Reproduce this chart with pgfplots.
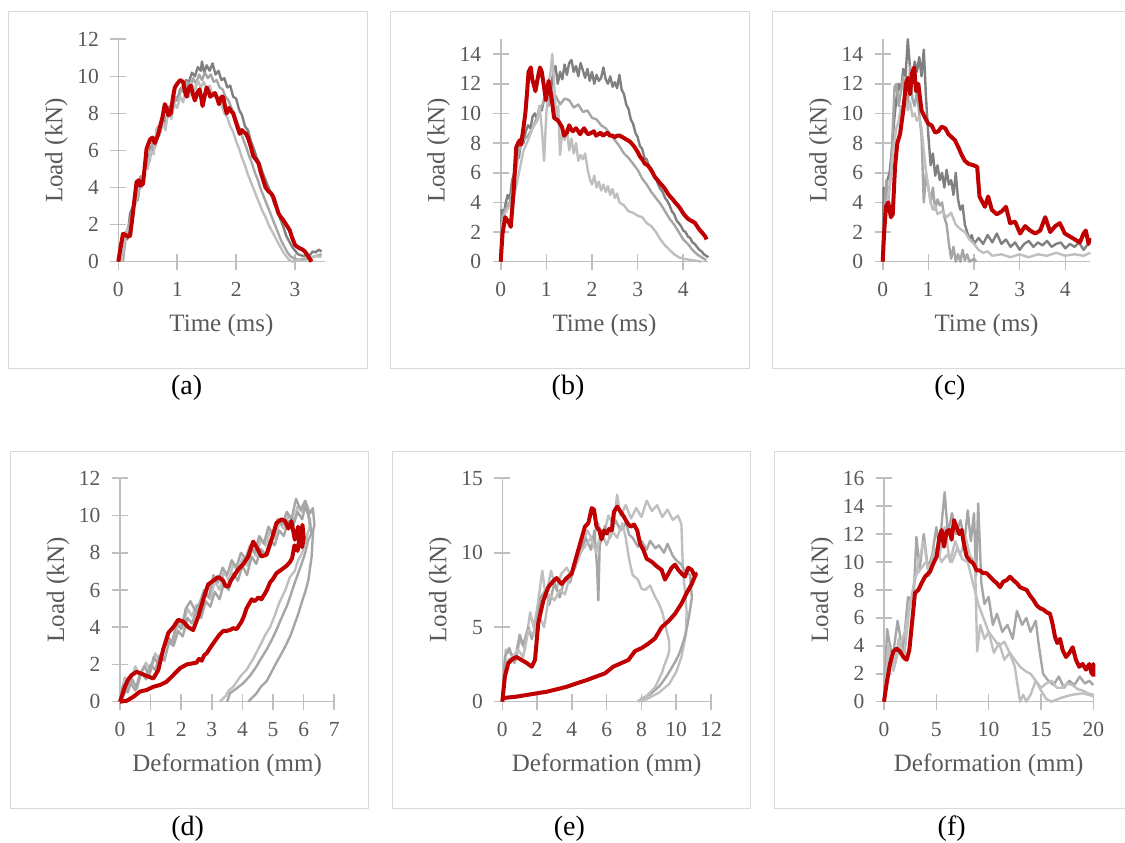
\documentclass[border=0pt]{standalone}
\usepackage{fontspec}
\setmainfont{Liberation Serif}
\usepackage{pgfplots}
\pgfplotsset{compat=1.18}
\definecolor{redline}{RGB}{192,0,0}
\definecolor{gA}{RGB}{128,128,128}
\definecolor{gB}{RGB}{166,166,166}
\definecolor{gC}{RGB}{191,191,191}
\definecolor{axgray}{RGB}{191,191,191}
\definecolor{txtgray}{RGB}{89,89,89}
\definecolor{framegray}{RGB}{217,217,217}

\pgfplotsset{
  panel/.style={
    scale only axis, anchor=south west,
    axis lines=left, axis line style={-, axgray, line width=1.6pt},
    tick style={axgray, line width=1.6pt}, tick align=center, major tick length=16pt,
    ticklabel style={font=\fontsize{21.5}{21.5}\selectfont, text=txtgray},
    yticklabel style={xshift=-8pt},
    xticklabel style={yshift=-9pt},
    label style={font=\fontsize{25}{25}\selectfont, text=txtgray},
    /pgf/number format/assume math mode=true,
    clip=false, xmin=0, ymin=0,
    ylabel={Load (kN)},
    xlabel style={at={(axis description cs:0.5,-0.285)}, anchor=center},
    ylabel style={anchor=center},
    every axis plot/.append style={line join=round},
  },
  rd/.style={redline, line width=4pt},
  ga/.style={gA, line width=2.4pt},
  gb/.style={gB, line width=2.4pt},
  gc/.style={gC, line width=2.4pt},
}

\begin{document}
\begin{tikzpicture}
\path[use as bounding box] (0,0) rectangle (1125pt,843pt);

% panel frames and captions
\draw[framegray, line width=1.5pt] (8.3pt,474.7pt) rectangle (367.7pt,831.3pt);
\draw[framegray, line width=1.5pt] (390.7pt,474.7pt) rectangle (749.3pt,831.3pt);
\draw[framegray, line width=1.5pt] (772.7pt,474.7pt) rectangle (1135pt,831.3pt);
\draw[framegray, line width=1.5pt] (10.7pt,34.7pt) rectangle (368.3pt,391.3pt);
\draw[framegray, line width=1.5pt] (392.3pt,34.7pt) rectangle (750.7pt,391.3pt);
\draw[framegray, line width=1.5pt] (774.3pt,34.7pt) rectangle (1135pt,391.3pt);
\node[font=\fontsize{28}{28}\selectfont] at (186.7pt,455pt) {(a)};
\node[font=\fontsize{28}{28}\selectfont] at (568pt,455pt) {(b)};
\node[font=\fontsize{28}{28}\selectfont] at (950pt,455pt) {(c)};
\node[font=\fontsize{28}{28}\selectfont] at (187.7pt,14pt) {(d)};
\node[font=\fontsize{28}{28}\selectfont] at (569.3pt,14pt) {(e)};
\node[font=\fontsize{28}{28}\selectfont] at (951.7pt,14pt) {(f)};

% (a)
\begin{axis}[panel, at={(118.3pt,581.3pt)}, width=206.2pt, height=222.4pt,
  xmax=3.5, ymax=12, xtick={0,1,2,3}, ytick={0,2,...,12},
  xlabel={Time (ms)}, ylabel style={at={(axis description cs:-0.300,0.5)}}]
\addplot[ga] coordinates {(0.05,0)(0.08,0.9)(0.12,1.6)(0.15,1.2)(0.2,2.6)(0.25,3.0)(0.3,3.9)(0.34,3.6)(0.38,4.6)(0.42,4.4)(0.46,5.5)(0.5,5.2)(0.55,6.2)(0.6,6.0)(0.65,6.9)(0.7,7.0)(0.75,7.7)(0.8,7.5)(0.85,8.3)(0.9,8.1)(0.95,8.8)(1.0,8.7)(1.05,9.3)(1.1,9.2)(1.15,9.8)(1.2,9.7)(1.25,10.2)(1.3,10.0)(1.35,10.5)(1.4,10.3)(1.42,10.8)(1.46,10.2)(1.5,10.6)(1.55,10.3)(1.6,10.7)(1.65,10.1)(1.7,10.3)(1.75,9.8)(1.8,9.9)(1.85,9.4)(1.9,9.5)(1.95,8.9)(2.0,8.8)(2.05,8.2)(2.1,7.9)(2.15,7.3)(2.2,7.1)(2.25,6.5)(2.3,6.1)(2.35,5.6)(2.4,5.3)(2.45,4.8)(2.5,4.4)(2.55,4.0)(2.6,3.6)(2.65,3.1)(2.7,2.8)(2.75,2.3)(2.8,1.9)(2.85,1.4)(2.9,1.1)(2.95,0.8)(3.0,0.6)(3.05,0.4)(3.1,0.35)(3.15,0.3)(3.2,0.4)(3.25,0.35)(3.3,0.55)(3.35,0.5)(3.4,0.65)(3.45,0.55)};
\addplot[gb] coordinates {(0.08,0)(0.12,1.2)(0.18,2.0)(0.22,2.4)(0.28,3.5)(0.33,3.3)(0.38,4.5)(0.43,4.7)(0.48,5.6)(0.53,5.4)(0.58,6.4)(0.63,6.2)(0.68,7.3)(0.72,7.0)(0.77,7.9)(0.82,7.6)(0.87,8.4)(0.92,8.1)(0.97,8.9)(1.02,8.7)(1.07,9.4)(1.12,9.1)(1.17,9.7)(1.22,9.4)(1.27,9.9)(1.32,9.6)(1.37,10.1)(1.42,9.8)(1.47,10.2)(1.52,9.9)(1.57,10.1)(1.62,9.7)(1.67,9.8)(1.72,9.4)(1.77,9.3)(1.82,8.9)(1.87,8.7)(1.92,8.3)(1.97,8.0)(2.02,7.5)(2.07,7.1)(2.12,6.6)(2.17,6.2)(2.22,5.7)(2.27,5.3)(2.32,4.8)(2.37,4.4)(2.42,3.9)(2.47,3.5)(2.52,3.1)(2.57,2.7)(2.62,2.3)(2.67,1.9)(2.72,1.5)(2.77,1.1)(2.82,0.8)(2.87,0.5)(2.92,0.3)(2.97,0.2)(3.05,0.1)(3.15,0.15)(3.25,0.2)(3.35,0.3)(3.45,0.4)};
\addplot[gc] coordinates {(0.05,0)(0.1,1.0)(0.15,1.8)(0.2,1.7)(0.25,2.9)(0.3,3.2)(0.35,4.2)(0.4,4.0)(0.45,5.2)(0.5,5.0)(0.55,6.0)(0.6,5.8)(0.65,7.2)(0.7,6.8)(0.75,7.6)(0.8,7.1)(0.85,8.2)(0.9,7.7)(0.95,8.5)(1.0,8.3)(1.05,8.9)(1.1,8.6)(1.15,9.4)(1.2,8.9)(1.25,9.6)(1.3,9.2)(1.35,9.8)(1.4,9.4)(1.45,9.7)(1.5,9.3)(1.55,9.5)(1.6,9.0)(1.65,9.1)(1.7,8.6)(1.75,8.5)(1.8,8.0)(1.85,7.8)(1.9,7.3)(1.95,7.0)(2.0,6.5)(2.05,6.1)(2.1,5.6)(2.15,5.2)(2.2,4.7)(2.25,4.3)(2.3,3.9)(2.35,3.5)(2.4,3.1)(2.45,2.7)(2.5,2.4)(2.55,2.0)(2.6,1.7)(2.65,1.4)(2.7,1.1)(2.75,0.8)(2.8,0.5)(2.85,0.3)(2.9,0.1)(2.95,0)(3.05,0.1)(3.15,0.05)(3.25,0.2)(3.35,0.3)(3.45,0.25)};
\addplot[rd] coordinates {(0,0)(0.04,0.8)(0.08,1.5)(0.12,1.45)(0.16,1.35)(0.2,1.4)(0.24,2.4)(0.28,3.5)(0.31,4.3)(0.35,4.4)(0.37,4.1)(0.42,4.2)(0.48,6.1)(0.54,6.6)(0.58,6.7)(0.62,6.4)(0.67,6.8)(0.71,7.3)(0.75,7.8)(0.79,8.5)(0.82,8.3)(0.85,7.9)(0.89,8.0)(0.93,8.9)(0.96,9.4)(1.0,9.6)(1.05,9.8)(1.10,9.7)(1.13,9.2)(1.16,8.9)(1.2,9.4)(1.23,9.5)(1.27,9.0)(1.30,8.7)(1.34,9.1)(1.38,9.3)(1.41,8.8)(1.43,8.4)(1.47,9.0)(1.50,9.4)(1.53,9.2)(1.56,8.9)(1.6,9.0)(1.64,9.1)(1.68,8.8)(1.71,8.5)(1.75,8.9)(1.78,8.9)(1.81,8.4)(1.84,8.0)(1.88,8.3)(1.92,8.1)(1.95,8.0)(1.99,7.6)(2.02,7.3)(2.06,6.9)(2.10,7.1)(2.13,7.0)(2.17,6.9)(2.21,6.6)(2.25,6.2)(2.29,5.7)(2.34,5.5)(2.38,5.3)(2.42,4.8)(2.46,4.4)(2.50,4.0)(2.55,3.8)(2.59,3.7)(2.63,3.5)(2.68,3.0)(2.72,2.6)(2.76,2.4)(2.80,2.25)(2.85,2.0)(2.91,1.7)(2.95,1.3)(3.0,0.9)(3.04,0.8)(3.08,0.72)(3.13,0.65)(3.17,0.54)(3.22,0.3)(3.28,0)};
\end{axis}

% (b)
\begin{axis}[panel, at={(500.7pt,581.3pt)}, width=207.7pt, height=222.4pt,
  xmax=4.55, ymax=15, xtick={0,1,2,3,4}, ytick={0,2,...,14},
  xlabel={Time (ms)}, ylabel style={at={(axis description cs:-0.299,0.5)}}]
\addplot[ga] coordinates {(0,0)(0.02,3.5)(0.06,3.2)(0.1,3.8)(0.15,4.5)(0.2,4.2)(0.25,5.5)(0.3,6.0)(0.35,7.5)(0.4,7.0)(0.45,8.5)(0.5,8.0)(0.55,8.8)(0.6,9.2)(0.65,9.0)(0.7,9.8)(0.75,10.0)(0.8,9.6)(0.85,10.5)(0.9,10.2)(0.95,11.0)(1.0,11.3)(1.05,12.0)(1.1,11.5)(1.15,12.8)(1.2,13.2)(1.25,12.0)(1.3,12.8)(1.35,12.3)(1.4,13.3)(1.45,12.6)(1.5,13.4)(1.55,13.6)(1.6,12.8)(1.65,13.2)(1.7,12.5)(1.75,13.4)(1.8,12.9)(1.85,12.4)(1.9,13.0)(1.95,12.2)(2.0,12.8)(2.05,12.0)(2.1,12.6)(2.15,12.2)(2.2,12.4)(2.25,13.1)(2.3,12.3)(2.35,12.0)(2.4,12.5)(2.45,11.8)(2.5,12.1)(2.55,11.7)(2.6,12.6)(2.65,11.6)(2.7,11.3)(2.75,10.6)(2.8,10.3)(2.85,9.6)(2.9,9.3)(2.95,8.7)(3.0,8.4)(3.05,7.8)(3.1,7.6)(3.15,7.0)(3.2,6.9)(3.25,6.4)(3.3,6.3)(3.35,5.8)(3.4,5.6)(3.45,5.2)(3.5,4.9)(3.55,4.7)(3.6,4.3)(3.65,4.1)(3.7,3.8)(3.75,3.4)(3.8,3.2)(3.85,2.8)(3.9,2.6)(3.95,2.4)(4.0,2.1)(4.05,2.0)(4.1,1.7)(4.15,1.6)(4.2,1.3)(4.25,1.2)(4.3,1.0)(4.35,0.8)(4.4,0.7)(4.45,0.5)(4.5,0.4)(4.55,0.3)};
\addplot[gb] coordinates {(0,0)(0.03,3.0)(0.1,3.5)(0.2,4.0)(0.3,5.5)(0.4,7.5)(0.5,8.2)(0.6,8.5)(0.7,9.0)(0.8,9.8)(0.9,10.5)(1.0,11.2)(1.05,10.5)(1.1,11.8)(1.15,11.0)(1.2,11.2)(1.3,10.6)(1.4,11.0)(1.5,10.9)(1.6,10.4)(1.7,10.6)(1.8,10.1)(1.9,10.2)(2.0,9.7)(2.1,9.6)(2.2,9.2)(2.3,9.0)(2.4,8.6)(2.5,8.2)(2.6,7.8)(2.7,7.3)(2.8,7.0)(2.9,6.6)(3.0,6.2)(3.1,5.6)(3.2,5.2)(3.3,4.7)(3.4,4.3)(3.5,3.9)(3.6,3.4)(3.7,2.9)(3.8,2.5)(3.9,2.0)(4.0,1.5)(4.1,1.2)(4.2,0.8)(4.3,0.5)(4.4,0.3)(4.5,0.1)};
\addplot[gc] coordinates {(0,0)(0.03,2.5)(0.1,3.3)(0.2,3.8)(0.3,4.5)(0.4,6.0)(0.5,7.5)(0.6,8.2)(0.7,9.0)(0.8,9.5)(0.85,10.5)(0.9,9.0)(0.95,6.8)(1.0,10.0)(1.05,12.0)(1.1,13.0)(1.13,14.0)(1.18,11.5)(1.22,9.5)(1.26,10.5)(1.3,7.2)(1.35,8.8)(1.4,8.2)(1.45,9.0)(1.5,7.5)(1.55,8.3)(1.6,7.3)(1.65,8.0)(1.7,6.8)(1.75,7.2)(1.8,6.9)(1.85,7.3)(1.9,6.3)(1.95,5.6)(2.0,5.2)(2.05,5.8)(2.1,5.0)(2.15,5.4)(2.2,4.8)(2.25,5.2)(2.3,4.7)(2.35,5.1)(2.4,4.5)(2.45,4.9)(2.5,4.3)(2.55,4.6)(2.6,4.0)(2.7,3.8)(2.8,3.4)(2.9,3.3)(3.0,3.1)(3.1,3.0)(3.2,2.6)(3.3,2.4)(3.4,2.0)(3.5,1.5)(3.6,1.1)(3.7,0.8)(3.8,0.5)(3.9,0.3)(4.0,0.2)(4.2,0.1)(4.4,0.0)};
\addplot[rd] coordinates {(0,0)(0.04,1.9)(0.1,3.0)(0.14,2.8)(0.17,2.7)(0.22,2.35)(0.28,4.6)(0.34,7.7)(0.38,8.0)(0.42,8.2)(0.45,7.9)(0.48,8.6)(0.54,10.0)(0.58,11.5)(0.61,12.8)(0.66,13.1)(0.69,12.3)(0.72,12.0)(0.76,11.5)(0.80,12.2)(0.86,13.1)(0.9,12.8)(0.93,12.2)(0.99,10.9)(1.05,12.2)(1.09,11.5)(1.12,10.9)(1.17,9.7)(1.22,9.6)(1.26,9.5)(1.3,9.3)(1.34,9.1)(1.39,8.5)(1.45,8.7)(1.50,9.2)(1.55,8.9)(1.58,8.8)(1.65,9.0)(1.70,8.8)(1.74,8.6)(1.8,8.9)(1.83,9.0)(1.88,8.7)(1.92,8.6)(1.99,8.7)(2.04,8.8)(2.09,8.5)(2.14,8.6)(2.19,8.7)(2.24,8.5)(2.29,8.6)(2.34,8.7)(2.39,8.5)(2.45,8.5)(2.50,8.4)(2.55,8.5)(2.61,8.5)(2.67,8.4)(2.72,8.3)(2.78,8.2)(2.83,8.1)(2.89,7.9)(2.94,7.7)(3.0,7.4)(3.05,7.1)(3.1,6.9)(3.16,6.6)(3.22,6.5)(3.27,6.3)(3.33,6.0)(3.38,5.7)(3.44,5.5)(3.49,5.3)(3.55,5.1)(3.60,4.9)(3.66,4.6)(3.71,4.4)(3.77,4.2)(3.82,4.0)(3.88,3.8)(3.93,3.6)(3.99,3.3)(4.04,3.1)(4.10,2.9)(4.15,2.8)(4.21,2.7)(4.26,2.6)(4.32,2.3)(4.37,2.1)(4.43,1.9)(4.48,1.7)(4.51,1.5)};
\end{axis}

% (c)
\begin{axis}[panel, at={(882.7pt,581.3pt)}, width=207.7pt, height=222.4pt,
  xmax=4.55, ymax=15, xtick={0,1,2,3,4}, ytick={0,2,...,14},
  xlabel={Time (ms)}, ylabel style={at={(axis description cs:-0.299,0.5)}}]
\addplot[ga] coordinates {(0,0)(0.02,5.0)(0.06,4.5)(0.1,5.5)(0.15,6.0)(0.2,7.5)(0.25,9.5)(0.3,11.0)(0.35,12.0)(0.4,11.5)(0.45,13.0)(0.5,12.5)(0.55,15.0)(0.6,13.0)(0.65,12.2)(0.7,13.5)(0.75,12.8)(0.8,13.8)(0.85,12.5)(0.9,14.3)(0.95,11.0)(1.0,8.5)(1.05,6.5)(1.1,7.3)(1.15,5.8)(1.2,6.5)(1.25,5.5)(1.3,6.0)(1.35,5.0)(1.4,6.2)(1.45,5.2)(1.5,5.5)(1.55,4.5)(1.6,6.0)(1.65,4.2)(1.7,3.5)(1.75,3.8)(1.8,2.5)(1.85,2.0)(1.9,1.5)(1.95,1.8)(2.0,1.2)(2.1,1.6)(2.2,1.2)(2.3,1.8)(2.4,1.3)(2.5,1.9)(2.6,1.2)(2.7,1.5)(2.8,1.0)(2.9,1.3)(3.0,0.8)(3.1,1.2)(3.2,1.4)(3.3,1.0)(3.4,1.3)(3.5,1.1)(3.6,1.4)(3.7,1.0)(3.8,1.2)(3.9,1.3)(4.0,0.9)(4.1,1.2)(4.2,1.0)(4.3,1.3)(4.4,0.8)(4.5,1.2)(4.55,1.4)};
\addplot[gb] coordinates {(0,0)(0.03,3.0)(0.08,5.5)(0.12,4.0)(0.18,6.0)(0.22,9.0)(0.26,11.8)(0.3,12.0)(0.35,10.5)(0.4,11.5)(0.45,12.5)(0.5,11.0)(0.55,10.5)(0.6,13.2)(0.65,11.0)(0.7,10.5)(0.75,11.5)(0.8,10.0)(0.85,8.5)(0.9,4.0)(0.95,6.0)(1.0,5.0)(1.05,4.0)(1.1,5.0)(1.15,3.5)(1.2,4.2)(1.25,3.8)(1.3,4.0)(1.35,3.0)(1.4,2.5)(1.45,1.2)(1.5,0.2)(1.55,1.0)(1.6,0.0)(1.65,0.5)(1.7,0.0)(1.75,0.8)(1.8,0.1)(1.85,0.5)(1.9,0.0)(2.0,0.2)(2.05,0.0)};
\addplot[gc] coordinates {(0,0)(0.05,2.5)(0.1,4.0)(0.15,5.0)(0.2,6.5)(0.25,8.0)(0.3,9.0)(0.35,9.5)(0.4,10.5)(0.45,10.0)(0.5,11.0)(0.55,10.2)(0.6,10.8)(0.65,9.8)(0.7,10.0)(0.75,9.5)(0.8,9.8)(0.85,9.0)(0.9,7.5)(0.95,6.0)(1.0,5.0)(1.05,4.0)(1.1,3.5)(1.15,3.8)(1.2,3.2)(1.3,3.4)(1.4,3.0)(1.5,3.3)(1.6,2.5)(1.7,2.2)(1.8,2.0)(1.9,1.5)(2.0,1.2)(2.1,0.8)(2.2,0.6)(2.3,0.7)(2.4,0.4)(2.6,0.5)(2.8,0.3)(3.0,0.5)(3.2,0.3)(3.4,0.5)(3.6,0.4)(3.8,0.6)(4.0,0.4)(4.2,0.5)(4.4,0.4)(4.55,0.6)};
\addplot[rd] coordinates {(0,0)(0.03,1.9)(0.07,3.7)(0.12,4.0)(0.15,3.5)(0.18,3.0)(0.22,3.2)(0.27,6.4)(0.32,8.0)(0.38,8.6)(0.45,10.2)(0.51,12.0)(0.55,12.4)(0.60,11.3)(0.64,12.7)(0.69,13.1)(0.73,11.5)(0.78,12.0)(0.85,10.2)(0.93,9.7)(1.0,9.3)(1.07,9.2)(1.15,8.7)(1.22,8.8)(1.29,9.1)(1.37,9.0)(1.44,8.6)(1.51,8.4)(1.58,8.2)(1.66,7.7)(1.73,7.2)(1.80,6.8)(1.88,6.6)(1.99,6.5)(2.07,6.4)(2.12,4.4)(2.17,4.1)(2.24,3.7)(2.31,4.4)(2.39,3.5)(2.50,3.2)(2.61,3.4)(2.70,3.7)(2.79,2.6)(2.90,2.7)(3.01,1.9)(3.12,2.4)(3.23,2.1)(3.34,1.9)(3.45,2.1)(3.56,3.0)(3.67,2.0)(3.78,2.4)(3.88,2.6)(3.99,1.9)(4.10,1.7)(4.21,1.5)(4.32,1.3)(4.40,1.9)(4.45,2.1)(4.51,1.2)(4.53,1.6)};
\end{axis}

% (d)
\begin{axis}[panel, at={(120pt,141.3pt)}, width=214.3pt, height=223.4pt,
  xmax=7, ymax=12, xtick={0,1,...,7}, ytick={0,2,...,12},
  xlabel={Deformation (mm)}, ylabel style={at={(axis description cs:-0.289,0.5)}}]
\addplot[gc] coordinates {(0,0)(0.15,1.3)(0.3,0.9)(0.5,1.9)(0.65,1.4)(0.85,2.1)(1.0,1.6)(1.15,2.6)(1.3,2.2)(1.45,3.0)(1.6,3.4)(1.75,3.1)(1.9,4.3)(2.05,4.0)(2.2,5.0)(2.35,4.6)(2.5,5.2)(2.65,4.7)(2.8,5.8)(2.95,5.5)(3.1,6.5)(3.25,6.0)(3.4,7.0)(3.55,6.5)(3.7,7.4)(3.85,7.0)(4.0,7.7)(4.15,7.3)(4.3,8.2)(4.45,7.8)(4.6,8.7)(4.75,8.4)(4.9,9.2)(5.05,8.8)(5.2,9.6)(5.35,9.3)(5.5,10.0)(5.65,9.6)(5.8,10.5)(5.95,10.2)(6.05,10.7)(6.15,10.0)(6.2,9.4)(6.1,8.9)(6.04,8.5)(5.95,8.0)(5.82,7.6)(5.7,7.0)(5.55,6.7)(5.4,6.0)(5.2,5.3)(5.05,4.6)(4.9,4.0)(4.75,3.6)(4.57,3.0)(4.35,2.3)(4.13,1.7)(3.95,1.4)(3.7,0.8)(3.55,0.6)(3.45,0.3)(3.26,0)};
\addplot[gb] coordinates {(0,0)(0.1,0.9)(0.25,0.5)(0.4,1.2)(0.55,0.7)(0.7,1.6)(0.85,1.2)(1.0,2.0)(1.15,1.7)(1.3,2.5)(1.45,2.2)(1.6,3.2)(1.75,3.0)(1.9,3.8)(2.05,3.5)(2.2,4.5)(2.35,4.2)(2.5,4.9)(2.65,4.5)(2.8,5.4)(2.95,5.1)(3.1,5.9)(3.25,5.5)(3.4,6.4)(3.55,6.0)(3.7,6.9)(3.85,6.5)(4.0,7.3)(4.15,6.8)(4.3,7.8)(4.45,7.4)(4.6,8.2)(4.75,7.9)(4.9,8.7)(5.05,8.4)(5.2,9.2)(5.35,8.9)(5.5,9.7)(5.65,9.4)(5.8,10.2)(5.95,9.8)(6.05,10.5)(6.2,9.8)(6.25,9.0)(6.15,8.7)(6.05,8.0)(5.93,7.4)(5.8,6.8)(5.71,6.4)(5.55,5.6)(5.44,5.1)(5.25,4.4)(5.11,3.85)(4.95,3.3)(4.79,2.8)(4.6,2.3)(4.46,1.9)(4.25,1.4)(4.03,1.0)(3.8,0.7)(3.59,0.45)(3.5,0)};
\addplot[gb] coordinates {(0,0)(0.2,0.6)(0.35,1.0)(0.5,0.6)(0.65,1.5)(0.8,1.9)(0.95,1.4)(1.1,2.4)(1.25,2.0)(1.4,2.7)(1.55,3.5)(1.7,3.2)(1.85,4.2)(2.0,3.9)(2.15,5.0)(2.3,5.4)(2.45,4.9)(2.6,5.3)(2.75,6.0)(2.9,5.6)(3.05,6.8)(3.2,6.4)(3.35,7.2)(3.5,6.8)(3.65,7.6)(3.8,7.2)(3.95,8.0)(4.1,7.7)(4.25,8.4)(4.4,8.0)(4.55,8.9)(4.7,8.5)(4.85,9.4)(5.0,9.0)(5.15,9.8)(5.3,9.5)(5.45,10.2)(5.6,9.8)(5.75,10.9)(5.9,10.3)(6.05,10.8)(6.2,10.1)(6.3,10.4)(6.35,9.5)(6.31,9.2)(6.28,8.4)(6.26,7.8)(6.2,7.1)(6.15,6.5)(6.05,5.9)(5.93,5.3)(5.82,4.7)(5.71,4.2)(5.58,3.6)(5.44,3.1)(5.28,2.6)(5.11,2.1)(4.95,1.6)(4.79,1.1)(4.6,0.8)(4.46,0.45)(4.19,0)};
\addplot[rd] coordinates {(0,0)(0.16,0.8)(0.27,1.2)(0.38,1.43)(0.54,1.6)(0.71,1.5)(0.92,1.35)(1.09,1.25)(1.25,1.7)(1.41,2.8)(1.58,3.7)(1.74,4.0)(1.90,4.4)(2.07,4.3)(2.23,4.0)(2.39,3.85)(2.56,4.6)(2.72,5.5)(2.88,6.3)(3.05,6.5)(3.21,6.7)(3.30,6.6)(3.37,6.5)(3.45,6.2)(3.54,6.2)(3.62,6.5)(3.70,6.7)(3.86,7.1)(4.03,7.4)(4.19,7.8)(4.35,8.6)(4.46,8.3)(4.62,7.8)(4.79,7.9)(4.95,8.7)(5.11,9.6)(5.28,9.8)(5.39,9.7)(5.50,9.3)(5.60,9.7)(5.71,8.7)(5.82,9.4)(5.90,8.4)(5.96,9.5)(6.0,8.8)(5.95,8.3)(5.88,9.0)(5.80,8.1)(5.70,8.4)(5.62,7.7)(5.55,7.5)(5.44,7.3)(5.28,7.1)(5.11,6.9)(5.0,6.6)(4.90,6.4)(4.80,6.0)(4.73,5.8)(4.62,5.5)(4.52,5.6)(4.40,5.4)(4.30,5.5)(4.20,5.2)(4.13,5.0)(4.05,4.6)(3.97,4.3)(3.81,3.9)(3.70,3.95)(3.59,3.85)(3.48,3.8)(3.37,3.8)(3.25,3.6)(3.16,3.4)(2.99,3.0)(2.83,2.6)(2.75,2.5)(2.67,2.2)(2.58,2.3)(2.50,2.1)(2.34,2.05)(2.18,2.0)(1.96,1.8)(1.74,1.43)(1.52,1.07)(1.31,0.9)(1.09,0.8)(0.87,0.63)(0.65,0.54)(0.44,0.27)(0.22,0.05)(0,0)};
\end{axis}

% (e)
\begin{axis}[panel, at={(502.3pt,141.3pt)}, width=208.7pt, height=223.4pt,
  xmax=12, ymax=15, xtick={0,2,...,12}, ytick={0,5,10,15},
  xlabel={Deformation (mm)}, ylabel style={at={(axis description cs:-0.297,0.5)}}]
\addplot[gc] coordinates {(0,0)(0.2,3.5)(0.5,3.2)(0.8,2.8)(1.0,4.2)(1.3,3.5)(1.6,6.0)(1.8,5.0)(2.0,6.2)(2.3,8.8)(2.5,7.0)(2.8,8.8)(3.1,7.5)(3.4,8.6)(3.7,9.0)(4.0,8.4)(4.3,10.0)(4.6,10.5)(4.9,11.5)(5.2,10.8)(5.5,12.0)(5.8,11.0)(6.1,12.5)(6.4,11.8)(6.6,13.9)(6.8,12.5)(7.1,13.2)(7.4,12.3)(7.7,13.0)(8.0,12.4)(8.3,13.5)(8.6,12.8)(8.9,13.2)(9.2,12.4)(9.5,12.9)(9.8,12.2)(10.1,12.5)(10.3,11.9)(10.35,10.0)(10.4,8.5)(10.5,7.5)(10.6,6.0)(10.55,4.5)(10.3,3.0)(10.0,2.0)(9.6,1.2)(9.0,0.6)(8.5,0.3)(8.0,0.0)};
\addplot[gb] coordinates {(0,0)(0.15,3.0)(0.4,3.6)(0.7,2.6)(1.0,4.5)(1.2,3.8)(1.5,5.0)(1.7,4.2)(2.0,5.5)(2.2,7.0)(2.5,7.5)(2.7,6.5)(3.0,8.0)(3.3,7.0)(3.6,8.3)(3.9,8.0)(4.2,9.5)(4.5,10.0)(4.8,11.0)(5.1,10.2)(5.3,11.5)(5.45,9.0)(5.52,6.8)(5.6,10.5)(5.9,11.8)(6.2,11.0)(6.5,12.2)(6.8,11.5)(7.1,12.0)(7.3,11.2)(7.5,11.0)(7.8,10.4)(8.0,10.8)(8.3,10.2)(8.5,10.8)(8.8,10.3)(9.0,10.5)(9.3,10.0)(9.5,10.6)(9.8,9.8)(10.0,9.5)(10.3,9.2)(10.5,8.8)(10.8,8.5)(10.9,7.0)(10.8,6.2)(10.7,5.5)(10.55,4.6)(10.4,4.0)(10.2,3.3)(10.0,2.8)(9.7,2.2)(9.5,1.8)(9.2,1.3)(9.0,1.0)(8.5,0.5)(8.0,0.2)(7.8,0)};
\addplot[gc] coordinates {(0,0)(0.3,2.8)(0.6,3.0)(0.9,3.5)(1.2,3.0)(1.5,4.8)(1.8,4.5)(2.1,5.8)(2.4,5.0)(2.7,7.2)(3.0,6.8)(3.3,7.5)(3.6,7.2)(3.9,8.5)(4.2,9.0)(4.5,10.0)(4.8,10.5)(5.1,11.0)(5.4,10.0)(5.7,11.5)(6.0,10.5)(6.3,11.5)(6.6,11.0)(6.9,12.0)(7.1,11.0)(7.3,9.5)(7.5,8.5)(7.8,8.2)(8.0,7.6)(8.2,7.5)(8.5,7.8)(8.8,7.0)(9.0,6.6)(9.2,6.0)(9.4,5.0)(9.6,4.0)(9.6,3.4)(9.5,3.0)(9.3,2.4)(9.2,2.0)(9.0,1.5)(8.8,1.0)(8.4,0.5)(8.1,0.2)(7.8,0)};
\addplot[rd] coordinates {(0,0)(0.15,1.7)(0.35,2.6)(0.63,2.9)(0.82,3.0)(1.11,2.8)(1.40,2.6)(1.69,2.35)(1.88,2.8)(2.07,5.3)(2.36,6.8)(2.65,7.7)(2.93,8.1)(3.12,8.3)(3.41,7.9)(3.70,8.3)(3.99,8.6)(4.18,9.4)(4.47,10.6)(4.75,11.75)(4.95,12.0)(5.14,13.0)(5.27,12.9)(5.42,11.75)(5.58,11.5)(5.71,10.9)(5.85,11.5)(6.0,11.3)(6.15,11.6)(6.29,11.5)(6.42,12.75)(6.61,13.1)(6.80,12.75)(7.0,12.4)(7.19,12.0)(7.38,11.75)(7.57,11.9)(7.76,11.5)(7.92,10.6)(8.11,10.2)(8.30,9.6)(8.59,9.4)(8.87,9.1)(9.16,8.85)(9.35,8.2)(9.55,8.6)(9.74,9.0)(9.93,9.2)(10.12,8.85)(10.31,8.6)(10.5,8.4)(10.69,9.0)(10.89,8.85)(11.08,8.4)(11.14,8.6)(10.89,7.9)(10.6,7.3)(10.31,6.6)(9.93,5.9)(9.55,5.4)(9.16,5.0)(8.78,4.25)(8.40,3.9)(8.01,3.6)(7.63,3.4)(7.25,2.8)(6.86,2.6)(6.38,2.35)(5.90,1.9)(5.42,1.7)(4.85,1.45)(4.27,1.23)(3.70,1.0)(3.12,0.83)(2.55,0.67)(1.97,0.56)(1.40,0.45)(0.82,0.34)(0.25,0.27)(0,0.22)};
\end{axis}

% (f)
\begin{axis}[panel, at={(884pt,141.3pt)}, width=209.3pt, height=223.4pt,
  xmax=20, ymax=16, xtick={0,5,...,20}, ytick={0,2,...,16},
  xlabel={Deformation (mm)}, ylabel style={at={(axis description cs:-0.296,0.5)}}]
\addplot[gb] coordinates {(0,0)(0.3,5.2)(0.8,3.0)(1.3,5.8)(1.8,3.5)(2.3,7.5)(2.8,7.0)(3.1,11.8)(3.4,9.5)(3.8,12.0)(4.2,9.5)(4.6,10.5)(5.0,12.5)(5.3,11.0)(5.6,13.5)(5.8,15.0)(6.1,12.0)(6.5,13.5)(6.9,12.0)(7.3,13.0)(7.7,11.5)(8.0,13.7)(8.3,11.5)(8.6,13.5)(8.8,9.0)(9.0,14.2)(9.3,8.5)(9.6,7.0)(10.0,7.5)(10.4,5.5)(10.8,6.3)(11.3,5.0)(11.8,5.5)(12.3,4.5)(12.7,6.5)(13.2,5.5)(13.6,6.0)(14.0,5.0)(14.5,5.8)(14.8,4.0)(15.2,2.0)(15.7,1.5)(16.2,1.2)(16.7,1.8)(17.2,1.0)(17.7,1.5)(18.2,1.2)(18.7,1.8)(19.2,1.3)(19.6,1.5)(20.0,1.2)};
\addplot[gc] coordinates {(0,0)(0.4,4.0)(0.9,2.2)(1.4,4.5)(1.9,3.0)(2.4,6.5)(2.9,8.5)(3.3,10.0)(3.8,11.5)(4.3,9.0)(4.8,11.0)(5.3,10.5)(5.8,12.5)(6.3,10.0)(6.8,11.5)(7.3,10.5)(7.8,11.8)(8.2,10.5)(8.7,10.0)(8.9,3.6)(9.2,5.5)(9.6,4.5)(10.0,5.0)(10.5,3.5)(11.0,4.2)(11.5,3.0)(12.0,3.5)(12.5,2.5)(12.8,1.0)(13.0,0)(13.3,0.5)(13.6,0)(14.0,0.5)(14.5,1.5)(15.0,0.8)(15.5,0.2)(16.0,0)(17.0,0.3)(18.0,0.5)(19.0,0.6)(20.0,0.4)};
\addplot[gc] coordinates {(0,0)(0.5,3.5)(1.0,2.5)(1.5,4.0)(2.0,5.0)(2.5,7.0)(3.0,9.0)(3.5,9.5)(4.0,10.0)(4.5,9.5)(5.0,11.0)(5.5,10.0)(6.0,10.5)(6.5,10.0)(7.0,11.0)(7.5,10.2)(8.0,10.0)(8.5,8.5)(9.0,7.0)(9.5,6.0)(10.0,5.0)(10.5,4.5)(11.0,4.0)(11.5,4.3)(12.0,3.5)(12.5,3.0)(13.0,2.5)(13.5,2.2)(14.0,2.0)(14.5,1.5)(15.0,1.0)(15.5,1.3)(16.0,1.5)(16.5,1.0)(17.0,1.0)(17.5,1.3)(18.0,1.2)(18.5,0.9)(19.0,0.8)(19.5,0.6)(20.0,0.5)};
\addplot[rd] coordinates {(0,0)(0.25,1.3)(0.57,2.7)(0.89,3.6)(1.2,3.8)(1.53,3.6)(1.85,3.2)(2.17,3.0)(2.42,3.7)(2.74,6.1)(2.96,7.8)(3.28,8.0)(3.6,8.5)(3.92,8.95)(4.39,9.3)(4.71,9.9)(5.03,10.4)(5.29,11.8)(5.51,12.3)(5.73,11.1)(5.99,12.2)(6.24,12.3)(6.46,11.6)(6.69,13.0)(6.94,12.5)(7.2,12.0)(7.42,12.3)(7.64,11.3)(7.9,10.4)(8.22,10.1)(8.54,9.9)(8.85,9.4)(9.17,9.4)(9.49,9.2)(9.81,9.2)(10.13,8.95)(10.45,8.7)(10.76,8.5)(11.08,8.2)(11.4,8.6)(11.72,8.7)(12.04,8.95)(12.36,8.7)(12.68,8.5)(13.0,8.2)(13.31,8.1)(13.63,8.0)(13.95,7.6)(14.27,7.3)(14.59,6.9)(14.9,6.7)(15.22,6.6)(15.54,6.4)(15.86,6.3)(16.1,5.6)(16.34,4.65)(16.56,4.2)(16.82,4.5)(17.07,3.7)(17.39,3.2)(17.71,3.5)(18.03,3.9)(18.34,3.0)(18.66,2.5)(18.98,2.7)(19.3,2.3)(19.62,2.7)(19.84,2.0)(20.0,2.7)(20.0,1.8)};
\end{axis}
\end{tikzpicture}
\end{document}
